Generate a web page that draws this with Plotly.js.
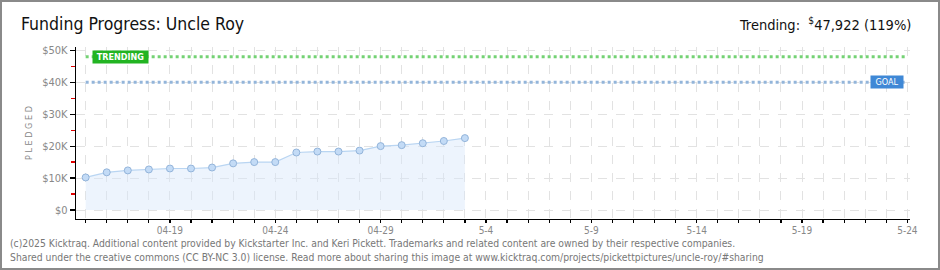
<!DOCTYPE html>
<html>
<head>
<meta charset="utf-8">
<script src="https://cdn.plot.ly/plotly-3.0.1.min.js"></script>
<style>
html,body{margin:0;padding:0;background:#fff;}
#wrap{position:relative;width:940px;height:270px;}
#chart{width:940px;height:270px;}
#frame{position:absolute;left:0;top:0;width:936px;height:266px;border:2px solid #8a8a8a;pointer-events:none;}
</style>
</head>
<body>
<div id="wrap"><div id="chart"></div><div id="frame"></div></div>
<script>
// Data
const dates = ['2025-04-15','2025-04-16','2025-04-17','2025-04-18','2025-04-19','2025-04-20','2025-04-21','2025-04-22','2025-04-23','2025-04-24','2025-04-25','2025-04-26','2025-04-27','2025-04-28','2025-04-29','2025-04-30','2025-05-01','2025-05-02','2025-05-03'];
const pledged = [10200,11800,12400,12700,13000,13000,13300,14600,15000,15000,18000,18300,18300,18600,20000,20300,20900,21600,22500];
const goal = 40000;
const trending = 47922;
const trendingPct = 119;
const xTickVals = ['2025-04-19','2025-04-24','2025-04-29','2025-05-04','2025-05-09','2025-05-14','2025-05-19','2025-05-24'];
const xTickText = ['04-19','04-24','04-29','5-4','5-9','5-14','5-19','5-24'];
const yTickVals = [0,10000,20000,30000,40000,50000];
const yTickText = ['$0','$10K','$20K','$30K','$40K','$50K'];
const yHalfTickVals = [5000,15000,25000,35000,45000];
const campaignStart = '2025-04-15';
const campaignEnd = '2025-05-24';

const font = '"DejaVu Sans Condensed","Liberation Sans Narrow","Liberation Sans",sans-serif';
const yRange = [-2800, 51000];

const traces = [{
  x: dates, y: pledged, type: 'scatter', mode: 'lines+markers',
  fill: 'tozeroy', fillcolor: 'rgba(215,231,250,0.45)',
  line: {color: '#b9d5f2', width: 1.2},
  marker: {size: 7, color: '#c3dbf6', line: {color: '#93b4da', width: 1}},
  hoverinfo: 'skip', showlegend: false
}, {
  x: [campaignStart], y: [goal], yaxis: 'y2', type: 'scatter', mode: 'markers',
  marker: {opacity: 0}, hoverinfo: 'skip', showlegend: false
}];

const layout = {
  width: 940, height: 270,
  margin: {l: 76, r: 30, t: 47, b: 51},
  paper_bgcolor: '#fff', plot_bgcolor: '#fff',
  showlegend: false,
  xaxis: {
    type: 'date', range: ['2025-04-14 13:00', '2025-05-24 03:00'],
    tickvals: xTickVals, ticktext: xTickText,
    showgrid: false, zeroline: false,
    showline: true, linecolor: '#000', linewidth: 1.2,
    ticks: 'outside', ticklen: 3, tickcolor: '#000', tickwidth: 1.2,
    ticklabelstandoff: -1,
    minor: {dtick: 86400000, tick0: '2025-04-15', ticks: 'outside', ticklen: 3, tickcolor: '#000', tickwidth: 1.2, showgrid: true, gridcolor: '#e2e2e2', griddash: 'dash', gridwidth: 1},
    tickfont: {family: font, size: 10, color: '#888'},
    fixedrange: true
  },
  yaxis: {
    range: yRange,
    tickvals: yTickVals, ticktext: yTickText,
    showgrid: true, gridcolor: '#e2e2e2', griddash: 'dash', gridwidth: 1,
    zeroline: false, showline: true, linecolor: '#000', linewidth: 1.2,
    ticks: 'outside', ticklen: 5, tickcolor: '#000', tickwidth: 1.2,
    tickfont: {family: font, size: 11, color: '#888'},
    title: {text: 'P L E D G E D', font: {family: font, size: 9, color: '#888'}, standoff: 8},
    fixedrange: true
  },
  yaxis2: {
    range: yRange, overlaying: 'y', side: 'left',
    tickvals: yHalfTickVals, showticklabels: false,
    showgrid: false, zeroline: false, showline: false,
    ticks: 'outside', ticklen: 4, tickcolor: '#e00000', tickwidth: 1.2,
    fixedrange: true
  },
  shapes: [
    {type: 'line', xref: 'x', yref: 'y', x0: campaignStart, x1: campaignEnd, y0: trending, y1: trending, line: {color: '#74d274', width: 3, dash: 'dot'}},
    {type: 'line', xref: 'x', yref: 'y', x0: campaignStart, x1: campaignEnd, y0: goal, y1: goal, line: {color: '#93b5da', width: 3, dash: 'dot'}}
  ],
  annotations: [
    {xref: 'paper', yref: 'paper', x: -0.068, y: 1.0, yshift: 23, xanchor: 'left', yanchor: 'middle', showarrow: false,
     text: 'Funding Progress: Uncle Roy', font: {family: font, size: 17.5, color: '#111'}},
    {xref: 'paper', yref: 'paper', x: 1.003, y: 1.0, yshift: 23, xanchor: 'right', yanchor: 'middle', showarrow: false,
     text: 'Trending:  <sup>$</sup>' + trending.toLocaleString('en-US') + ' (' + trendingPct + '%)', font: {family: font, size: 14.5, color: '#111'}},
    {xref: 'x', yref: 'y', x: '2025-04-16 15:40', y: trending, xanchor: 'center', yanchor: 'middle', showarrow: false,
     text: '<b>TRENDING</b>', font: {family: font, size: 9, color: '#fff'}, bgcolor: '#22b422', borderpad: 1, width: 53, height: 10},
    {xref: 'x', yref: 'y', x: '2025-05-23 01:00', y: goal, xanchor: 'center', yanchor: 'middle', showarrow: false,
     text: 'GOAL', font: {family: font, size: 9, color: '#fff'}, bgcolor: '#3f88d6', borderpad: 1, width: 30, height: 10},
    {xref: 'paper', yref: 'paper', x: -0.082, y: 0, yshift: -24, xanchor: 'left', yanchor: 'middle', showarrow: false,
     text: '(c)2025 Kicktraq. Additional content provided by Kickstarter Inc. and Keri Pickett. Trademarks and related content are owned by their respective companies.',
     font: {family: font, size: 10.3, color: '#777'}},
    {xref: 'paper', yref: 'paper', x: -0.082, y: 0, yshift: -38, xanchor: 'left', yanchor: 'middle', showarrow: false,
     text: 'Shared under the creative commons (CC BY-NC 3.0) license. Read more about sharing this image at www.kicktraq.com/projects/pickettpictures/uncle-roy/#sharing',
     font: {family: font, size: 10.3, color: '#777'}}
  ]
};

Plotly.newPlot('chart', traces, layout, {staticPlot: true, displayModeBar: false});
</script>
</body>
</html>
